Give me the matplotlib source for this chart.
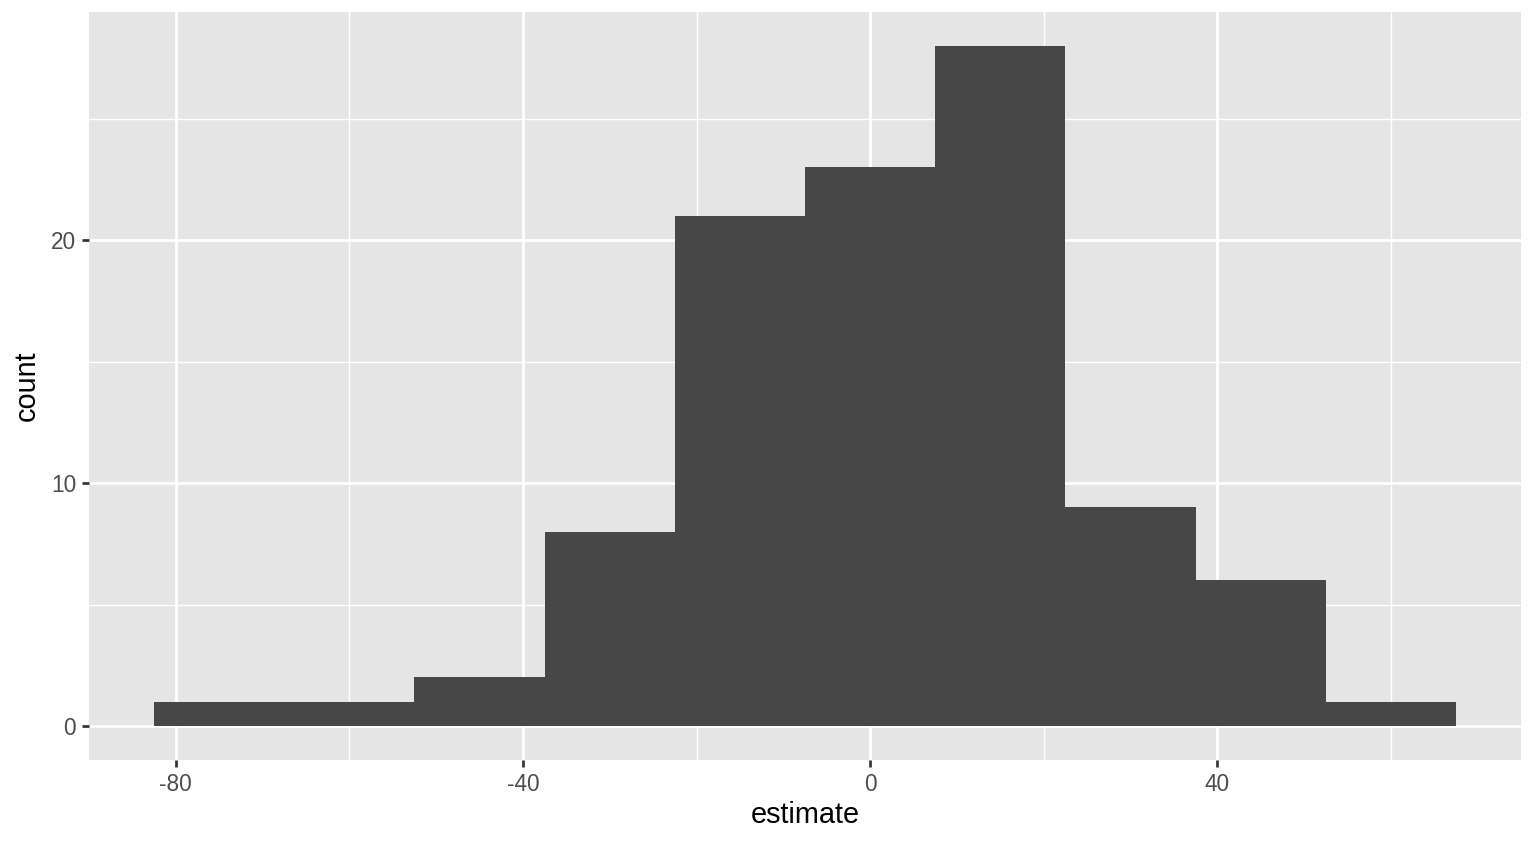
import matplotlib
matplotlib.use("Agg")
import matplotlib.pyplot as plt
import numpy as np

# Data
bin_centers = [-75, -60, -45, -30, -15, 0, 15, 30, 45, 60]
counts = [1, 1, 2, 8, 21, 23, 28, 9, 6, 1]
bin_width = 15
x_ticks = [-80, -40, 0, 40]
x_minor = [-60, -20, 20, 60]
y_ticks = [0, 10, 20]
y_minor = [5, 15, 25]

plt.rcParams['font.family'] = ['Liberation Sans', 'DejaVu Sans']

W, H = 1536, 844
fig = plt.figure(figsize=(W / 100, H / 100), dpi=100)
l, r, b, t = 89, 1521, 760, 12
ax = fig.add_axes([l / W, (H - b) / H, (r - l) / W, (b - t) / H])
ax.set_facecolor('#E5E5E5')

ax.bar(bin_centers, counts, width=bin_width, color='#474747', edgecolor='none', zorder=3)

ax.set_xlim(-90, 75)
ax.set_ylim(-1.4, 29.4)
ax.set_xticks(x_ticks)
ax.set_xticklabels([str(v) for v in x_ticks])
ax.set_yticks(y_ticks)
ax.set_yticklabels([str(v) for v in y_ticks])
ax.set_xticks(x_minor, minor=True)
ax.set_yticks(y_minor, minor=True)

ax.grid(which='major', color='white', linewidth=1.95, zorder=1)
ax.grid(which='minor', color='white', linewidth=1.0, zorder=1)
ax.set_axisbelow(True)
for s in ax.spines.values():
    s.set_visible(False)

ax.tick_params(which='major', length=5.2, width=1.95, color='#333333',
               labelsize=16.3, labelcolor='#4D4D4D', pad=4.0)
ax.tick_params(which='minor', length=0)

fig.text(805 / W, (H - 823) / H, 'estimate', ha='center', va='baseline',
         fontsize=20.8, color='black')
fig.text(27 / W, (H - 386) / H, 'count', ha='center', va='center',
         rotation=90, fontsize=20.8, color='black')

fig.savefig('out.png', dpi=100)
